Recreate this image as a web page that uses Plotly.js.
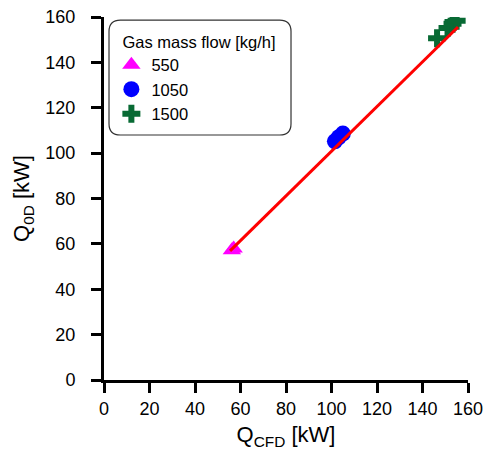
<!DOCTYPE html>
<html>
<head>
<meta charset="utf-8">
<script src="https://cdn.plot.ly/plotly-3.0.1.min.js"></script>
<style>
  html, body { margin: 0; padding: 0; background: #fff; }
  #chart { width: 486px; height: 462px; }
</style>
</head>
<body>
<div id="chart"></div>
<script>
// Heat duty: 0D model versus CFD, grouped by gas mass flow
const flowLabels = ['550', '1050', '1500'];

const q550Cfd = [56.2, 57.0];
const q550Od  = [57.2, 58.0];

const q1050Cfd = [101.5, 103.2, 105.0];
const q1050Od  = [105.2, 107.0, 108.6];

const q1500Cfd = [146.4, 151.0, 153.2, 155.0];
const q1500Od  = [150.6, 155.2, 157.0, 158.4];

// parity fit line
const fitCfd = [55.4, 155.6];
const fitOd  = [56.9, 155.6];

const fam = 'Liberation Sans, Arial, sans-serif';
const axisFont = { family: fam, size: 18, color: '#000' };

const traces = [
  {
    x: q550Cfd, y: q550Od, name: flowLabels[0], type: 'scatter', mode: 'markers',
    marker: { symbol: 'triangle-up', size: 16, color: '#ff00ff' }
  },
  {
    x: q1050Cfd, y: q1050Od, name: flowLabels[1], type: 'scatter', mode: 'markers',
    marker: { symbol: 'circle', size: 16, color: '#0000ff' }
  },
  {
    x: q1500Cfd, y: q1500Od, name: flowLabels[2], type: 'scatter', mode: 'markers',
    marker: { symbol: 'cross', size: 15, color: '#086a34' }
  },
  {
    x: fitCfd, y: fitOd, type: 'scatter', mode: 'lines', showlegend: false,
    line: { color: '#ff0000', width: 3 }
  }
];

// rounded frame behind the legend (data units, both axes 0–160)
const bx0 = 2.2, bx1 = 82.2, by0 = 108.0, by1 = 158.6, r = 5;
const framePath =
  `M ${bx0 + r} ${by1} L ${bx1 - r} ${by1} Q ${bx1} ${by1} ${bx1} ${by1 - r} ` +
  `L ${bx1} ${by0 + r} Q ${bx1} ${by0} ${bx1 - r} ${by0} ` +
  `L ${bx0 + r} ${by0} Q ${bx0} ${by0} ${bx0} ${by0 + r} ` +
  `L ${bx0} ${by1 - r} Q ${bx0} ${by1} ${bx0 + r} ${by1} Z`;

const layout = {
  width: 486, height: 462,
  margin: { l: 104, r: 18, t: 17, b: 82 },
  paper_bgcolor: '#fff', plot_bgcolor: '#fff',
  font: axisFont,
  showlegend: true,
  legend: {
    x: 0.045, y: 0.975, xanchor: 'left', yanchor: 'top',
    bgcolor: 'rgba(0,0,0,0)', borderwidth: 0,
    indentation: -9,
    font: { family: fam, size: 16.5, color: '#000' },
    title: { text: 'Gas mass flow [kg/h]', side: 'top',
             font: { family: fam, size: 16.5, color: '#000' } },
    itemsizing: 'trace'
  },
  xaxis: {
    range: [0, 160], dtick: 20, tick0: 0,
    showgrid: false, zeroline: false,
    showline: true, linecolor: '#000', linewidth: 3,
    ticks: 'outside', ticklen: 10, tickwidth: 3, tickcolor: '#000',
    tickfont: axisFont,
    title: { text: 'Q<sub>CFD</sub> [kW]', standoff: 10,
             font: { family: fam, size: 22, color: '#000' } }
  },
  yaxis: {
    range: [0, 160], dtick: 20, tick0: 0,
    showgrid: false, zeroline: false,
    showline: true, linecolor: '#000', linewidth: 3,
    ticks: 'outside', ticklen: 10, tickwidth: 3, tickcolor: '#000',
    ticklabelstandoff: 12,
    tickfont: axisFont,
    title: { text: 'Q<sub>0D</sub> [kW]', standoff: 10,
             font: { family: fam, size: 22, color: '#000' } }
  },
  shapes: [
    { type: 'path', xref: 'x', yref: 'y', path: framePath, layer: 'below',
      line: { color: '#333', width: 1.2 }, fillcolor: 'rgba(0,0,0,0)' }
  ]
};

Plotly.newPlot('chart', traces, layout, { displayModeBar: false, staticPlot: true });
</script>
</body>
</html>
